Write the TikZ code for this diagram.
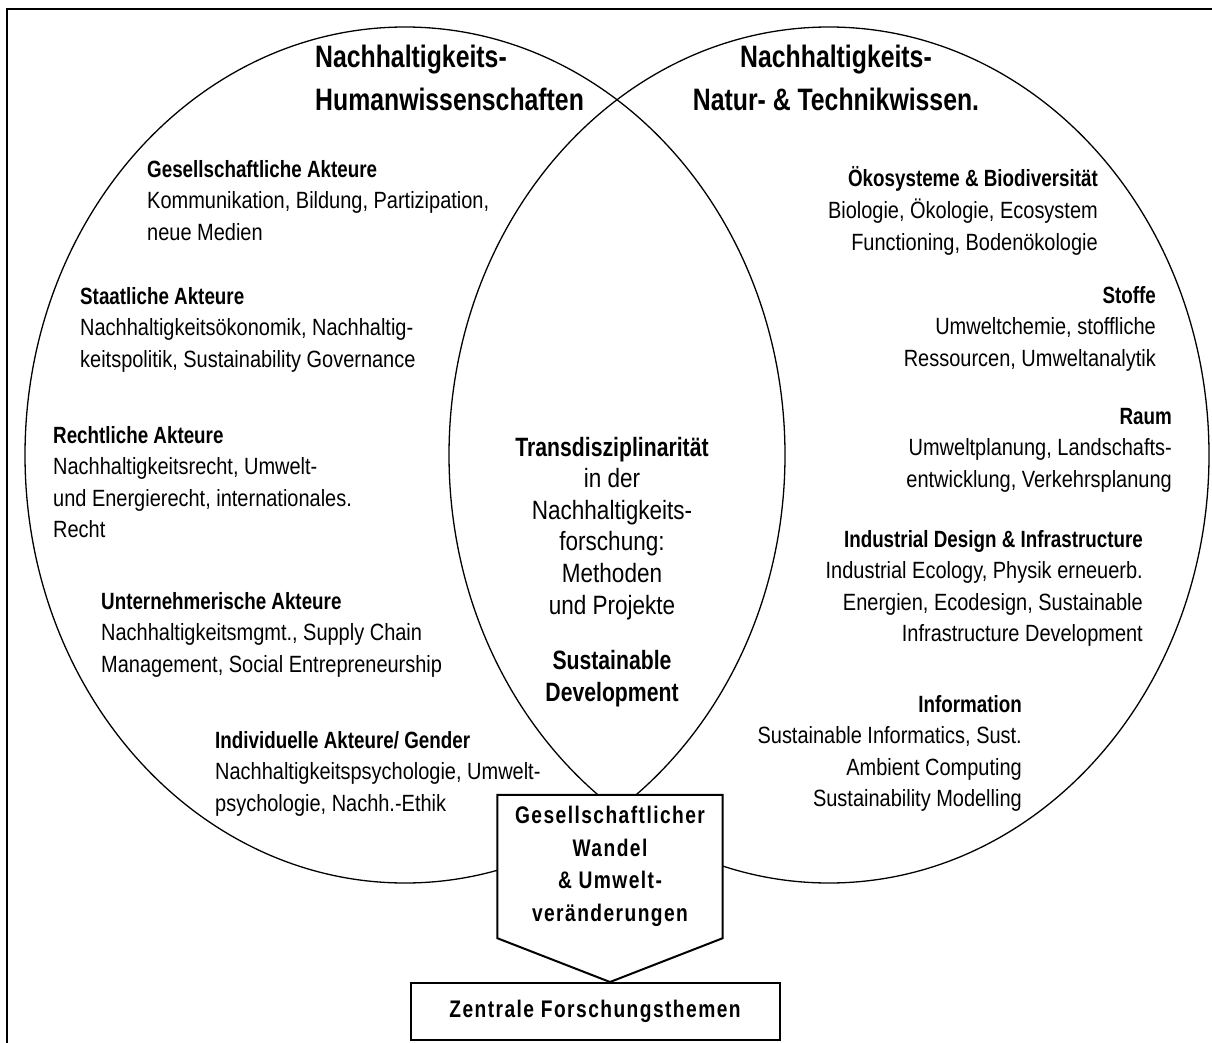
\documentclass[tikz,border=0pt]{standalone}
\usepackage{fontspec}
\setmainfont{Liberation Sans}[FakeStretch=0.85,BoldFeatures={FakeStretch=0.8}]
\usepackage{tikz}
\usetikzlibrary{calc, positioning}

\newcommand{\bodysize}{\fontsize{23.5}{31.6}\selectfont}
\newcommand{\headsize}{\fontsize{31}{43}\selectfont}
\newcommand{\coresize}{\fontsize{26.5}{31.6}\selectfont}
\newcommand{\boxsize}{\fontsize{24}{32.5}\selectfont\addfontfeatures{LetterSpace=6}}

% multi-line nodes sit on the baseline of their last line
\tikzset{
  venn/.style={line width=1.3pt},
  heading/.style={font=\headsize\bfseries, inner sep=0pt, anchor=base},
  topicl/.style={font=\bodysize, align=left, inner sep=0pt, anchor=base west},
  topicr/.style={font=\bodysize, align=right, inner sep=0pt, anchor=base east},
  core/.style={font=\coresize, align=center, inner sep=0pt, anchor=base},
  wandelbox/.style={fill=white, minimum width=225pt, minimum height=143pt, inner sep=0pt, align=center, font=\boxsize\bfseries},
  themenbox/.style={draw, line width=2pt, fill=white, minimum width=369pt, minimum height=57pt, inner sep=0pt, font=\boxsize\bfseries},
  boxline/.style={line width=2pt, line join=miter}
}

\begin{document}
\begin{tikzpicture}[x=1pt,y=-1pt]
  \useasboundingbox (0,0) rectangle (1212,1043);
  \draw[line width=2.5pt] (7,1043) -- (7,9) -- (1212,9);

  % the two circles
  \draw[venn] (405,455) ellipse [x radius=380pt, y radius=428pt];
  \draw[venn] (829,455) ellipse [x radius=380pt, y radius=428pt];

  \node (human) [heading, anchor=base west, align=left] at (315,111) {Nachhaltigkeits-\\Humanwissenschaften};
  \node (natur) [heading, align=center] at (836,111) {Nachhaltigkeits-\\Natur- \& Technikwissen.};

  % left side
  \node (gesell) [topicl] at (147,240.2) {\textbf{Gesellschaftliche Akteure}\\Kommunikation, Bildung, Partizipation,\\neue Medien};
  \node (staat) [topicl] at (80,367.2) {\textbf{Staatliche Akteure}\\Nachhaltigkeitsökonomik, Nachhaltig-\\keitspolitik, Sustainability Governance};
  \node (recht) [topicl] at (53,537.8) {\textbf{Rechtliche Akteure}\\Nachhaltigkeitsrecht, Umwelt-\\und Energierecht, internationales.\\Recht};
  \node (untern) [topicl] at (101,672.2) {\textbf{Unternehmerische Akteure}\\Nachhaltigkeitsmgmt., Supply Chain\\Management, Social Entrepreneurship};
  \node (indiv) [topicl] at (215,811.2) {\textbf{Individuelle Akteure/ Gender}\\Nachhaltigkeitspsychologie, Umwelt-\\psychologie, Nachh.-Ethik};

  % right side
  \node (oeko) [topicr] at (1098,250.2) {\textbf{Ökosysteme \& Biodiversität}\\Biologie, Ökologie, Ecosystem\\Functioning, Bodenökologie};
  \node (stoffe) [topicr] at (1156,366.2) {\textbf{Stoffe}\\Umweltchemie, stoffliche\\Ressourcen, Umweltanalytik};
  \node (raum) [topicr] at (1172,487.2) {\textbf{Raum}\\Umweltplanung, Landschafts-\\entwicklung, Verkehrsplanung};
  \node (design) [topicr] at (1143,641.8) {\textbf{Industrial Design \& Infrastructure}\\Industrial Ecology, Physik erneuerb.\\Energien, Ecodesign, Sustainable\\Infrastructure Development};
  \node (info) [topicr] at (1022,806.8) {\textbf{Information}\\Sustainable Informatics, Sust.\\Ambient Computing\\Sustainability Modelling};

  % lens
  \node (trans) [core] at (612,701.2) {\textbf{Transdisziplinarität}\\in der\\Nachhaltigkeits-\\forschung:\\Methoden\\und Projekte\\[24pt]\textbf{Sustainable}\\\textbf{Development}};

  % bottom
  \node (themen) [themenbox] at (595,1011.5) {Zentrale Forschungsthemen};
  \node (wandel) [wandelbox] at (610,866.5) {Gesellschaftlicher\\Wandel\\\& Umwelt-\\veränderungen};
  \draw[boxline] (wandel.south east) -- (wandel.north east) -- (wandel.north west) -- (wandel.south west) -- (wandel.south |- themen.north) -- cycle;
\end{tikzpicture}
\end{document}
